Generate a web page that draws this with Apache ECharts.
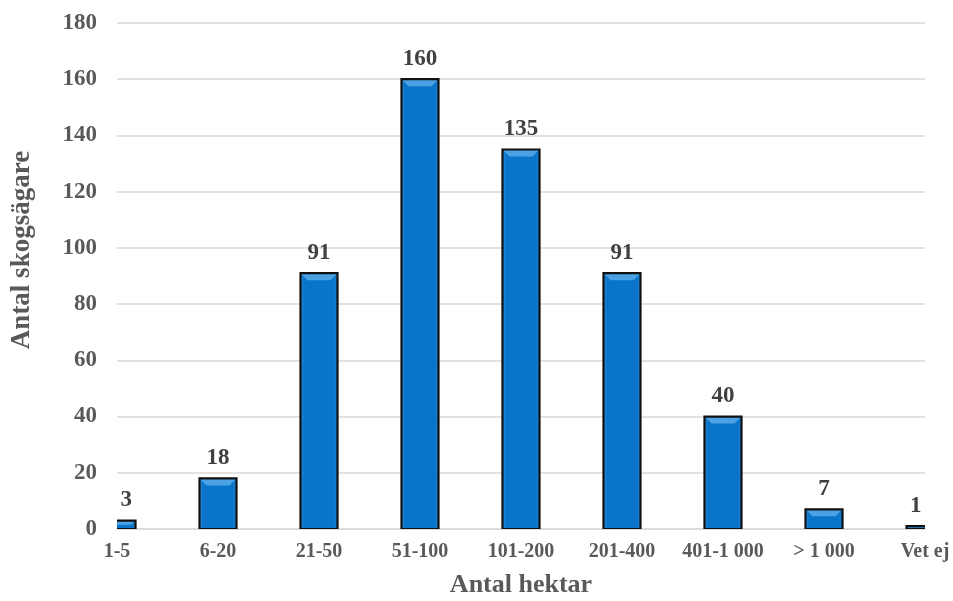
<!DOCTYPE html>
<html><head><meta charset="utf-8">
<script src="https://cdn.jsdelivr.net/npm/echarts@6/dist/echarts.min.js"></script>
<style>html,body{margin:0;padding:0;background:#fff}#c{width:953px;height:601px}</style>
</head><body><div id="c"></div>
<script>
const categories = ['1-5','6-20','21-50','51-100','101-200','201-400','401-1 000','> 1 000','Vet ej'];
const values = [3,18,91,160,135,91,40,7,1];
const yTicks = {min:0, max:180, interval:20};
const xTitle = 'Antal hektar';
const yTitle = 'Antal skogsägare';

const font = '"Liberation Serif","Times New Roman",serif';
const BW = 37;
const seriesData = values.map((v, i) => [i, v]);

function renderItem(params, api) {
  const idx = api.value(0), val = api.value(1);
  const top = api.coord([idx, val]);
  const base = api.coord([idx, 0]);
  const cs = params.coordSys;
  const rx = top[0] - BW / 2, ry = top[1], rh = base[1] - top[1];
  const bev = Math.min(7, rh / 2);
  const x0 = Math.max(rx, cs.x), x1 = Math.min(rx + BW, cs.x + cs.width);
  return {
    type: 'group',
    children: [
      {type:'rect', shape:{x:rx, y:ry, width:BW, height:rh},
        style:{fill:{type:'linear',x:0,y:0,x2:1,y2:0,colorStops:[
          {offset:0,color:'#2a8ad8'},{offset:0.1,color:'#0a74c9'},{offset:0.9,color:'#0a74c9'},{offset:1,color:'#1f82d2'}]}, stroke:null}},
      {type:'polygon', shape:{points:[[rx, ry],[rx+BW, ry],[rx+BW-bev, ry+bev],[rx+bev, ry+bev]]},
        style:{fill:'#4aa2e4', stroke:null}},
      {type:'rect', shape:{x:rx, y:ry, width:BW, height:rh},
        style:{fill:null, stroke:'#111', lineWidth:2.2}},
      {type:'text', style:{text:String(val), x:(x0 + x1) / 2, y:ry - 9, align:'center', verticalAlign:'bottom',
        font:'bold 23px ' + font, fill:'#404040'}}
    ]
  };
}

const chart = echarts.init(document.getElementById('c'), null, {renderer:'canvas'});
chart.setOption({
  animation:false,
  grid:{left:117, right:28, top:23, bottom:72, containLabel:false},
  xAxis:{type:'category', data:categories, boundaryGap:false,
    axisLine:{show:true, lineStyle:{color:'#d9d9d9', width:1.5}},
    axisTick:{show:false},
    splitLine:{show:false},
    axisLabel:{fontFamily:font, fontWeight:'bold', fontSize:20, color:'#595959', margin:13, interval:0}
  },
  yAxis:{type:'value', min:yTicks.min, max:yTicks.max, interval:yTicks.interval,
    axisLine:{show:false}, axisTick:{show:false},
    splitLine:{lineStyle:{color:'#d9d9d9', width:1.5}},
    axisLabel:{fontFamily:font, fontWeight:'bold', fontSize:23, color:'#595959', margin:20}
  },
  graphic:[
    {type:'text', x:521, y:598, style:{text:xTitle, font:'bold 26px ' + font, fill:'#595959', align:'center', verticalAlign:'bottom'}},
    {type:'text', x:22, y:250, rotation:Math.PI/2,
      style:{text:yTitle, font:'bold 27px ' + font, fill:'#595959', align:'center', verticalAlign:'middle'}}
  ],
  series:[{type:'custom', data:seriesData, renderItem:renderItem, clip:true,
    encode:{x:0, y:1}}]
});
</script></body></html>
